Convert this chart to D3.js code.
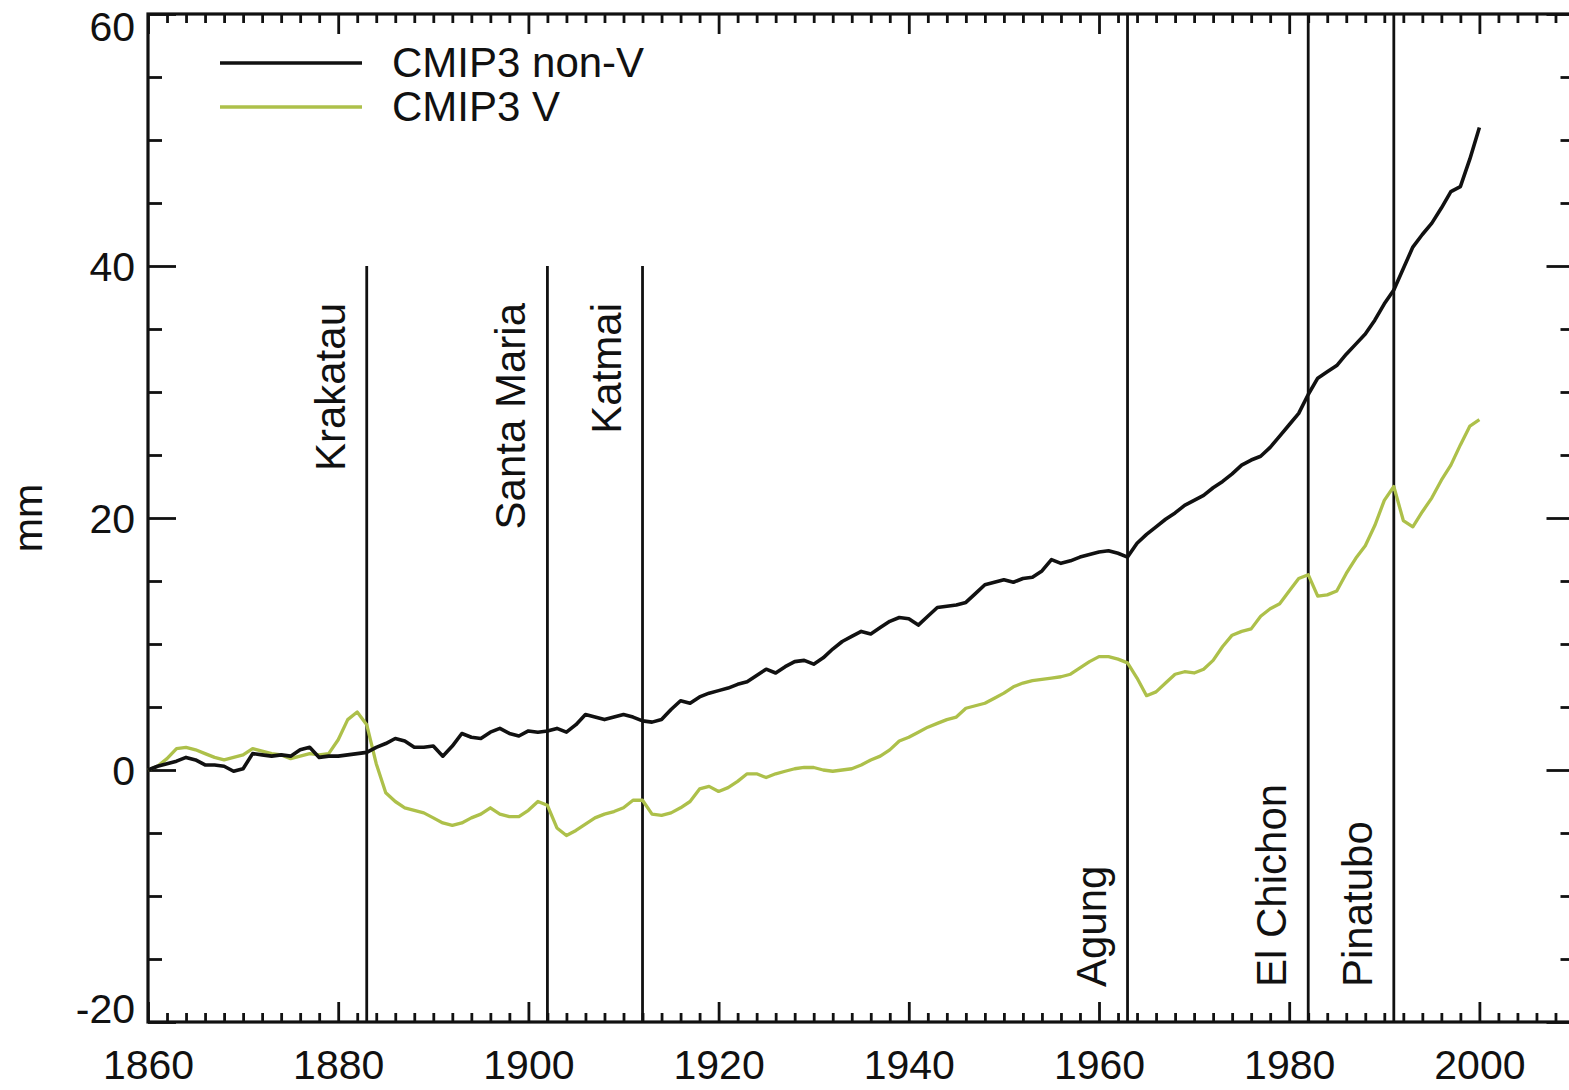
<!DOCTYPE html>
<html>
<head>
<meta charset="utf-8">
<script src="https://cdn.jsdelivr.net/npm/d3@7"></script>
<style>
  html, body { margin: 0; padding: 0; background: #fff; }
  svg { display: block; }
  text { font-family: "Liberation Sans", Arial, Helvetica, sans-serif; fill: #111; }
</style>
</head>
<body>
<svg id="chart" width="1569" height="1090"></svg>
<script>
// Annual simulated sea-level change (mm), 1860-2000
const years = d3.range(1860, 2001);

const nonVolcanic = [
  0.0, 0.3, 0.5, 0.7, 1.0, 0.8, 0.4, 0.4, 0.3, -0.1,
  0.1, 1.3, 1.2, 1.1, 1.2, 1.1, 1.6, 1.8, 1.0, 1.1,
  1.1, 1.2, 1.3, 1.4, 1.8, 2.1, 2.5, 2.3, 1.8, 1.8,
  1.9, 1.1, 1.9, 2.9, 2.6, 2.5, 3.0, 3.3, 2.9, 2.7,
  3.1, 3.0, 3.1, 3.3, 3.0, 3.6, 4.4, 4.2, 4.0, 4.2,
  4.4, 4.2, 3.9, 3.8, 4.0, 4.8, 5.5, 5.3, 5.8, 6.1,
  6.3, 6.5, 6.8, 7.0, 7.5, 8.0, 7.7, 8.2, 8.6, 8.7,
  8.4, 8.9, 9.6, 10.2, 10.6, 11.0, 10.8, 11.3, 11.8, 12.1,
  12.0, 11.5, 12.2, 12.9, 13.0, 13.1, 13.3, 14.0, 14.7, 14.9,
  15.1, 14.9, 15.2, 15.3, 15.8, 16.7, 16.4, 16.6, 16.9, 17.1,
  17.3, 17.4, 17.2, 16.9, 18.0, 18.7, 19.3, 19.9, 20.4, 21.0,
  21.4, 21.8, 22.4, 22.9, 23.5, 24.2, 24.6, 24.9, 25.6, 26.5,
  27.4, 28.3, 29.8, 31.1, 31.6, 32.1, 33.0, 33.8, 34.6, 35.7,
  37.0, 38.1, 39.8, 41.5, 42.5, 43.4, 44.6, 45.9, 46.3, 48.5,
  51.0
];

const volcanic = [
  0.0, 0.3, 0.9, 1.7, 1.8, 1.6, 1.3, 1.0, 0.8, 1.0,
  1.2, 1.7, 1.5, 1.3, 1.2, 0.9, 1.1, 1.3, 1.2, 1.3,
  2.4, 4.0, 4.6, 3.6, 0.5, -1.8, -2.5, -3.0, -3.2, -3.4,
  -3.8, -4.2, -4.4, -4.2, -3.8, -3.5, -3.0, -3.5, -3.7, -3.7,
  -3.2, -2.5, -2.8, -4.6, -5.2, -4.8, -4.3, -3.8, -3.5, -3.3,
  -3.0, -2.4, -2.4, -3.5, -3.6, -3.4, -3.0, -2.5, -1.5, -1.3,
  -1.7, -1.4, -0.9, -0.3, -0.3, -0.6, -0.3, -0.1, 0.1, 0.2,
  0.2, 0.0, -0.1, 0.0, 0.1, 0.4, 0.8, 1.1, 1.6, 2.3,
  2.6, 3.0, 3.4, 3.7, 4.0, 4.2, 4.9, 5.1, 5.3, 5.7,
  6.1, 6.6, 6.9, 7.1, 7.2, 7.3, 7.4, 7.6, 8.1, 8.6,
  9.0, 9.0, 8.8, 8.5, 7.3, 5.9, 6.2, 6.9, 7.6, 7.8,
  7.7, 8.0, 8.7, 9.8, 10.7, 11.0, 11.2, 12.2, 12.8, 13.2,
  14.2, 15.2, 15.5, 13.8, 13.9, 14.2, 15.6, 16.8, 17.8, 19.4,
  21.4, 22.5, 19.8, 19.3, 20.5, 21.6, 23.0, 24.2, 25.8, 27.3,
  27.8
];

// Major eruptions
const eruptionNames = ["Krakatau", "Santa Maria", "Katmai", "Agung", "El Chichon", "Pinatubo"];
const eruptionYears = [1883, 1902, 1912, 1963, 1982, 1991];

// Axis ticks
const xMajorTicks = [1860, 1880, 1900, 1920, 1940, 1960, 1980, 2000];
const yMajorTicks = [-20, 0, 20, 40, 60];

const seriesNames = ["CMIP3 non-V", "CMIP3 V"];
const seriesColors = ["#111111", "#adc04a"];

const svg = d3.select("#chart");
const W = 1569, H = 1090;
const margin = { left: 148, top: 14, right: -5.5, bottom: 68 };
const x0 = margin.left, x1 = W - margin.right;
const y0 = margin.top, y1 = H - margin.bottom;

const x = d3.scaleLinear().domain([1860, 2010]).range([x0, x1]);
const y = d3.scaleLinear().domain([-20, 60]).range([y1, y0]);

svg.append("rect").attr("width", W).attr("height", H).attr("fill", "#fff");

const FONT = 41;
const plainNumber = d => String(d);   // ASCII hyphen for negatives
const xMinor = d3.range(1860, 2011, 2).filter(v => v % 20 !== 0);
const yMinor = d3.range(-20, 61, 5).filter(v => v % 20 !== 0);

function styleAxis(g) {
  g.select(".domain").remove();
  g.selectAll(".tick line").attr("stroke", "#111").attr("stroke-width", 2.8);
  g.selectAll("text").attr("font-size", FONT).attr("fill", "#111")
    .attr("font-family", "'Liberation Sans', Arial, Helvetica, sans-serif");
}

// Bottom axis: labelled majors, minor ticks every 2 years (pointing inward)
svg.append("g").attr("transform", `translate(0,${y1})`)
  .call(d3.axisBottom(x).tickValues(xMajorTicks).tickSizeInner(-20).tickSizeOuter(0).tickPadding(28).tickFormat(plainNumber))
  .call(styleAxis);
svg.append("g").attr("transform", `translate(0,${y1})`)
  .call(d3.axisBottom(x).tickValues(xMinor).tickSizeInner(-9).tickSizeOuter(0).tickFormat(""))
  .call(styleAxis);

// Top axis
svg.append("g").attr("transform", `translate(0,${y0})`)
  .call(d3.axisTop(x).tickValues(xMajorTicks).tickSizeInner(-20).tickSizeOuter(0).tickFormat(""))
  .call(styleAxis);
svg.append("g").attr("transform", `translate(0,${y0})`)
  .call(d3.axisTop(x).tickValues(xMinor).tickSizeInner(-9).tickSizeOuter(0).tickFormat(""))
  .call(styleAxis);

// Left axis
const leftAxis = svg.append("g").attr("transform", `translate(${x0},0)`)
  .call(d3.axisLeft(y).tickValues(yMajorTicks).tickSizeInner(-28).tickSizeOuter(0).tickPadding(13).tickFormat(plainNumber))
  .call(styleAxis);
svg.append("g").attr("transform", `translate(${x0},0)`)
  .call(d3.axisLeft(y).tickValues(yMinor).tickSizeInner(-14).tickSizeOuter(0).tickFormat(""))
  .call(styleAxis);
// keep end labels inside the frame height
leftAxis.selectAll(".tick text")
  .attr("dy", d => d === 60 ? "0.65em" : d === -20 ? "0em" : "0.35em");

// Right axis
svg.append("g").attr("transform", `translate(${x1},0)`)
  .call(d3.axisRight(y).tickValues(yMajorTicks).tickSizeInner(-28).tickSizeOuter(0).tickFormat(""))
  .call(styleAxis);
svg.append("g").attr("transform", `translate(${x1},0)`)
  .call(d3.axisRight(y).tickValues(yMinor).tickSizeInner(-14).tickSizeOuter(0).tickFormat(""))
  .call(styleAxis);

// Frame
svg.append("rect")
  .attr("x", x0).attr("y", y0).attr("width", x1 - x0).attr("height", y1 - y0)
  .attr("fill", "none").attr("stroke", "#111").attr("stroke-width", 3.2);

// Y axis title
svg.append("text")
  .attr("transform", `translate(42,${(y0 + y1) / 2}) rotate(-90)`)
  .attr("text-anchor", "middle").attr("font-size", FONT).text("mm");

// Eruption markers
eruptionNames.forEach((name, i) => {
  const yr = eruptionYears[i];
  const early = yr < 1950;
  const px = x(yr);
  svg.append("line")
    .attr("x1", px).attr("x2", px)
    .attr("y1", early ? y(40) : y0).attr("y2", y1)
    .attr("stroke", "#111").attr("stroke-width", 2.8);
  const ty = early ? y(40) + 37 : y1 - 35;
  svg.append("text")
    .attr("transform", `translate(${px - 22},${ty}) rotate(-90)`)
    .attr("text-anchor", early ? "end" : "start")
    .attr("font-size", FONT + 1)
    .text(name);
});

// Series lines
const line = d3.line().x((d, i) => x(years[i])).y(d => y(d));
[volcanic, nonVolcanic].forEach((vals, k) => {
  const idx = k === 0 ? 1 : 0;
  svg.append("path")
    .datum(vals)
    .attr("d", line)
    .attr("fill", "none")
    .attr("stroke", seriesColors[idx])
    .attr("stroke-width", idx === 0 ? 3.6 : 3.3)
    .attr("stroke-linejoin", "round");
});

// Legend
seriesNames.forEach((name, i) => {
  const ly = 63 + i * 44;
  svg.append("line")
    .attr("x1", 220).attr("x2", 362).attr("y1", ly).attr("y2", ly)
    .attr("stroke", seriesColors[i]).attr("stroke-width", 3.4);
  svg.append("text")
    .attr("x", 392).attr("y", ly + 14)
    .attr("font-size", FONT + 1)
    .text(name);
});
</script>
</body>
</html>
